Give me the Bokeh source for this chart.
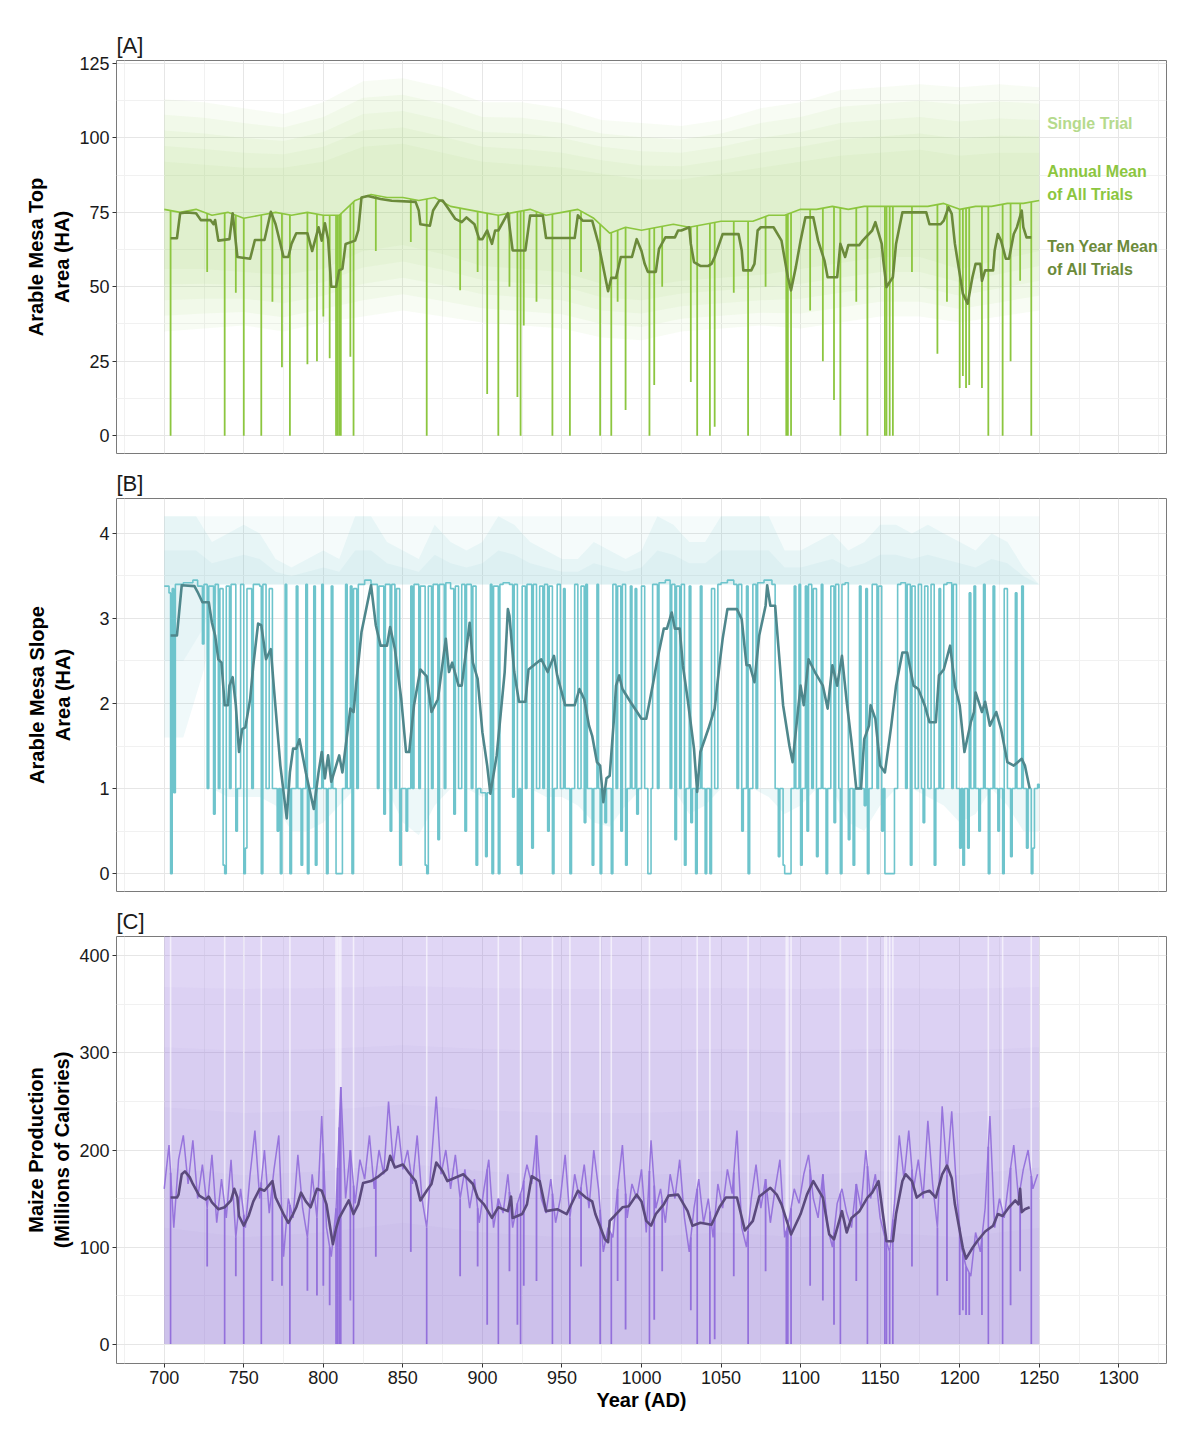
import numpy as np
from bokeh.plotting import figure
from bokeh.layouts import column
from bokeh.models import Range1d, FixedTicker, Label
from bokeh.embed import file_html
from bokeh.resources import INLINE

# ---------------- axis / tick data ----------------
x_ticks = [700, 750, 800, 850, 900, 950, 1000, 1050, 1100, 1150, 1200, 1250, 1300]
x_minor = [675, 725, 775, 825, 875, 925, 975, 1025, 1075, 1125, 1175, 1225, 1275, 1325]
A_yticks = [0, 25, 50, 75, 100, 125]
A_yminor = [12.5, 37.5, 62.5, 87.5, 112.5]
B_yticks = [0, 1, 2, 3, 4]
B_yminor = [0.5, 1.5, 2.5, 3.5]
C_yticks = [0, 100, 200, 300, 400]
C_yminor = [50, 150, 250, 350]

# ---------------- panel A: arable mesa top area ----------------
A_ann_years = list(range(700, 1251, 10))
A_ann_vals = [76, 75, 76, 74, 75, 73, 74, 75, 74, 75,
              74, 74, 79, 81, 80, 80, 79, 80, 77, 76,
              75, 74, 75, 76, 74, 75, 76, 73, 68, 70,
              69, 70, 71, 70, 71, 72, 72, 72, 74, 74,
              76, 76, 77, 76, 77, 77, 77, 77, 77, 78,
              76, 77, 77, 78, 78, 79]

drop_years = [704, 727, 738, 745, 750, 761, 768, 774, 779, 790,
              796, 800, 804, 808, 809, 810, 811, 817, 819, 833,
              855, 865, 886, 897, 903, 910, 917, 922, 924, 926,
              934, 944, 955, 962, 974, 981, 985, 990, 1005, 1008,
              1013, 1031, 1035, 1043, 1046, 1058, 1067, 1078, 1091, 1092,
              1094, 1106, 1114, 1121, 1125, 1135, 1142, 1153, 1154, 1156,
              1158, 1170, 1186, 1192, 1200, 1202, 1204, 1206, 1214, 1218,
              1227, 1232, 1238, 1245]
A_drop_vals = [0, 55, 0, 48, 0, 0, 45, 23, 0, 24,
               25, 40, 26, 0, 0, 0, 0, 26.5, 0, 62,
               65, 0, 48.8, 55, 14, 0, 50, 13, 0, 37,
               45, 0, 0, 55, 0, 0, 45, 8.6, 0, 17,
               50, 18, 0, 0, 3, 48, 0, 50, 0, 0,
               0, 42, 25, 12, 0, 45, 0, 0, 0, 0,
               0, 55, 27.5, 45, 16, 20, 16, 17, 16, 0,
               0, 25, 52, 0]

A_ten = [(704, 66.3), (708, 66.3), (710, 74.7), (714, 75), (720, 74.7), (723, 72.4), (729, 72.4),
         (731, 71), (732, 72.4), (734, 65.5), (741, 66), (743, 74.7), (746, 60), (754, 59.4),
         (757, 65.7), (763, 65.7), (767, 75.2), (770, 71), (773, 64.5), (775, 60), (778, 60),
         (780, 64.4), (783, 68), (790, 68), (793, 62), (797, 70), (799, 65.5), (801, 71.3),
         (803, 66), (805, 50), (808, 50), (810, 55.5), (812, 56), (814, 64.4), (820, 65.5),
         (822, 69), (824, 80), (828, 80.5), (836, 79.5), (843, 78.9), (858, 78.5), (860, 75.6),
         (861, 71), (867, 70.5), (869, 75.6), (873, 79), (875, 79), (878, 76.7), (883, 72.8),
         (887, 71.7), (890, 73.3), (895, 71), (898, 66), (900, 66), (903, 68.9), (906, 64.4),
         (908, 68.9), (910, 68.9), (916, 74.7), (919, 62.2), (927, 62.2), (930, 73.9), (938, 73.9),
         (940, 66.4), (958, 66.4), (960, 74), (963, 72.2), (969, 72.2), (973, 64.4), (979, 48.5),
         (981, 53), (984, 53), (987, 60), (994, 60), (997, 66), (1000, 62), (1002, 57.7),
         (1004, 55), (1009, 55), (1011, 62.7), (1015, 66.6), (1021, 66.6), (1023, 68.9),
         (1025, 68.9), (1030, 70), (1031, 64.4), (1033, 58.3), (1037, 57), (1042, 57),
         (1044, 57.7), (1046, 60), (1051, 67.7), (1061, 67.7), (1063, 62.2), (1064, 55.5),
         (1069, 55.5), (1071, 57.7), (1073, 68.9), (1075, 70), (1083, 70), (1088, 65.5),
         (1092, 53.2), (1094, 48.8), (1097, 56.6), (1100, 65.5), (1103, 73.3), (1108, 73.3),
         (1111, 65.5), (1115, 58.8), (1117, 53.2), (1123, 53.2), (1125, 64.4), (1128, 60),
         (1130, 64), (1137, 64), (1139, 65.5), (1145, 68.9), (1147, 71.7), (1151, 64.4),
         (1152, 58.8), (1154, 49.9), (1158, 53.2), (1160, 64.4), (1164, 75), (1179, 75),
         (1181, 71), (1188, 71), (1190, 72.2), (1193, 76.7), (1195, 74.5), (1197, 64.4),
         (1202, 47.7), (1205, 44.3), (1208, 53.2), (1210, 57.7), (1213, 57.7), (1214, 52),
         (1216, 55.5), (1221, 55.5), (1222, 62.2), (1224, 67.7), (1226, 65.5), (1229, 59.4),
         (1231, 59.4), (1234, 67.7), (1236, 70), (1239, 75.6), (1240, 70), (1242, 66.6),
         (1245, 66.6)]

A_cloud_years = list(range(700, 1251, 25))
A_out_hi = [113, 112, 110, 108, 112, 119, 120, 117, 112, 112, 110, 106,
            105, 104, 106, 110, 112, 116, 117, 118, 117, 118, 117]
A_out_lo = [35, 36, 37, 35, 38, 40, 42, 40, 38, 37, 36, 33,
            32, 35, 36, 37, 36, 38, 40, 40, 38, 40, 42]
A_in_hi = [92, 91, 90, 90, 92, 97, 98, 95, 92, 91, 90, 88,
           86, 86, 88, 90, 92, 94, 95, 96, 94, 95, 95]
A_in_lo = [56, 56, 55, 54, 56, 62, 64, 61, 57, 56, 55, 51,
           50, 52, 53, 54, 56, 58, 60, 60, 56, 59, 62]

# ---------------- panel B: arable mesa slope area ----------------
B_annual_runs = [
    (700, 3.38), (703, 3.3), (704, 0), (705, 3.35), (706, 0.95), (707, 3.4), (712, 3.42), (718, 3.45),
    (721, 3.38), (724, 2.7), (725, 3.4), (727, 1.0), (728, 3.38), (731, 0.7), (732, 3.4), (734, 1.0),
    (735, 3.35), (737, 0.1), (738, 0), (739, 3.38), (741, 1.0), (742, 3.4), (745, 0.5), (746, 1.0),
    (748, 3.4), (750, 0), (751, 0.3), (752, 3.35), (755, 1.0), (756, 3.4), (760, 3.38), (761, 0),
    (762, 3.4), (764, 1.0), (766, 3.35), (768, 1.0), (771, 0.5), (772, 1.0), (773, 0), (774, 1.0),
    (776, 3.4), (777, 1.0), (779, 0), (780, 1.0), (783, 3.38), (784, 1.0), (786, 0.1), (787, 1.0),
    (789, 3.4), (790, 0), (791, 1.0), (794, 3.38), (795, 0.1), (796, 1.0), (799, 3.4), (800, 1.0),
    (802, 0), (803, 1.0), (805, 3.38), (806, 1.0), (808, 0), (812, 1.0), (814, 3.4), (815, 1.0),
    (817, 3.38), (818, 0), (819, 3.35), (821, 1.0), (822, 3.4), (826, 3.45), (830, 3.4), (834, 1.0),
    (835, 3.38), (838, 0.7), (839, 3.4), (842, 0.5), (843, 3.4), (845, 1.0), (846, 3.35), (848, 0.1),
    (849, 1.0), (852, 0.5), (853, 1.0), (855, 3.38), (856, 1.0), (857, 3.4), (860, 1.0), (861, 3.38),
    (864, 0.1), (865, 0), (866, 3.38), (868, 1.0), (869, 3.4), (872, 0.4), (873, 3.4), (876, 1.0),
    (877, 3.42), (880, 3.35), (882, 0.7), (883, 3.38), (885, 1.0), (887, 3.4), (889, 0.5), (890, 3.4),
    (893, 1.0), (894, 3.38), (896, 0.1), (897, 1.0), (899, 0.95), (902, 0.2), (903, 0.95), (905, 3.4),
    (906, 0.0), (907, 3.38), (910, 0), (911, 3.4), (913, 3.42), (917, 3.4), (919, 0.9), (920, 3.4),
    (922, 0.1), (923, 1.0), (924, 0), (925, 3.38), (927, 1.0), (928, 3.4), (931, 0.3), (932, 3.4),
    (934, 1.0), (936, 3.38), (938, 1.0), (939, 3.4), (941, 0.5), (942, 3.38), (944, 0), (945, 1.0),
    (947, 3.4), (949, 1.0), (951, 3.35), (952, 1.0), (955, 0), (956, 1.0), (958, 3.4), (960, 1.0),
    (962, 3.38), (964, 0.6), (965, 3.4), (966, 1.0), (969, 0.1), (970, 1.0), (972, 3.4), (973, 1.0),
    (974, 0), (975, 1.0), (977, 0.6), (978, 1.0), (981, 0), (982, 3.4), (984, 1.0), (985, 3.38),
    (987, 0.5), (988, 3.4), (990, 0.1), (991, 1.0), (993, 3.38), (994, 1.0), (996, 3.35), (997, 0.7),
    (998, 1.0), (1000, 3.38), (1002, 1.0), (1004, 0), (1006, 1.0), (1007, 3.4), (1010, 1.0), (1011, 3.42),
    (1015, 3.45), (1018, 1.0), (1019, 3.4), (1021, 0.4), (1022, 3.38), (1024, 1.0), (1025, 3.4), (1027, 0.1),
    (1028, 1.0), (1030, 3.38), (1031, 0.6), (1032, 1.0), (1034, 0), (1035, 1.0), (1037, 3.38), (1038, 1.0),
    (1040, 0), (1041, 1.0), (1043, 0), (1044, 3.35), (1046, 1.0), (1048, 3.4), (1050, 3.42), (1054, 3.45),
    (1058, 3.4), (1060, 1.0), (1061, 3.4), (1063, 0.5), (1064, 1.0), (1066, 3.38), (1067, 0), (1068, 1.0),
    (1070, 3.4), (1072, 1.0), (1073, 3.42), (1077, 3.45), (1082, 3.4), (1084, 1.0), (1086, 0.2), (1087, 1.0),
    (1089, 0.1), (1090, 0), (1094, 1.0), (1096, 3.38), (1097, 1.0), (1099, 3.4), (1100, 0.1), (1101, 1.0),
    (1103, 3.38), (1104, 0.5), (1105, 3.4), (1107, 1.0), (1108, 3.35), (1110, 0.2), (1111, 1.0), (1113, 3.4),
    (1114, 1.0), (1116, 0), (1117, 1.0), (1119, 3.38), (1121, 0.6), (1122, 3.4), (1124, 1.0), (1125, 0),
    (1126, 3.4), (1128, 3.42), (1130, 0.4), (1131, 1.0), (1133, 0.1), (1134, 1.0), (1137, 3.38), (1138, 1.0),
    (1140, 0.8), (1141, 3.35), (1142, 0), (1143, 1.0), (1145, 3.4), (1148, 1.0), (1149, 3.38), (1151, 0.5),
    (1152, 1.0), (1153, 0), (1159, 1.0), (1161, 3.4), (1163, 3.42), (1166, 1.0), (1167, 3.4), (1169, 0.1),
    (1170, 3.38), (1172, 1.0), (1174, 3.4), (1176, 1.0), (1177, 0.6), (1178, 3.38), (1180, 1.0), (1182, 3.4),
    (1184, 0.1), (1185, 1.0), (1187, 3.35), (1188, 1.0), (1190, 3.4), (1192, 3.42), (1195, 1.0), (1196, 3.4),
    (1198, 1.0), (1200, 0.3), (1201, 1.0), (1202, 0.1), (1203, 1.0), (1205, 0.3), (1206, 3.3), (1207, 1.0),
    (1209, 3.38), (1210, 1.0), (1212, 0.5), (1213, 1.0), (1215, 3.4), (1216, 1.0), (1218, 0), (1219, 1.0),
    (1221, 3.38), (1222, 1.0), (1224, 0.5), (1225, 1.0), (1227, 0), (1228, 3.35), (1230, 1.0), (1232, 0.2),
    (1233, 1.0), (1235, 3.3), (1236, 1.0), (1239, 3.38), (1240, 1.0), (1242, 0.3), (1243, 1.0), (1245, 0),
    (1246, 0.3), (1247, 1.0), (1249, 1.05), (1250, 1.0)]

B_ten = [(704, 2.80), (708, 2.80), (711, 3.39), (719, 3.38), (721, 3.31), (724, 3.19), (728, 3.19),
         (730, 2.95), (732, 2.80), (734, 2.52), (736, 2.48), (738, 1.98), (740, 1.98), (741, 2.21),
         (743, 2.31), (745, 1.98), (747, 1.43), (749, 1.70), (751, 1.72), (754, 2.05), (756, 2.45),
         (759, 2.94), (761, 2.92), (764, 2.52), (767, 2.64), (769, 2.17), (773, 1.27), (777, 0.65),
         (779, 1.19), (781, 1.47), (783, 1.47), (785, 1.58), (789, 1.19), (794, 0.76), (797, 1.19),
         (799, 1.43), (801, 1.12), (803, 1.39), (805, 1.08), (810, 1.39), (812, 1.19), (817, 1.94),
         (819, 1.90), (821, 2.29), (824, 2.84), (830, 3.39), (833, 2.92), (836, 2.68), (840, 2.68),
         (842, 2.90), (845, 2.64), (849, 2.05), (852, 1.43), (854, 1.43), (857, 1.98), (861, 2.40),
         (865, 2.32), (868, 1.90), (872, 2.05), (877, 2.76), (879, 2.37), (881, 2.48), (885, 2.21),
         (887, 2.21), (892, 2.95), (894, 2.48), (897, 2.29), (900, 1.66), (903, 1.27), (905, 0.94),
         (909, 1.39), (914, 2.37), (916, 3.11), (917, 3.03), (920, 2.37), (923, 2.02), (927, 2.02),
         (929, 2.40), (937, 2.52), (941, 2.37), (945, 2.56), (947, 2.33), (952, 1.98), (958, 1.98),
         (961, 2.17), (964, 2.05), (967, 1.74), (969, 1.62), (972, 1.31), (974, 1.27), (976, 0.84),
         (978, 1.12), (980, 1.15), (983, 1.90), (984, 2.21), (986, 2.33), (988, 2.17), (993, 2.02),
         (1000, 1.82), (1003, 1.82), (1007, 2.21), (1010, 2.52), (1014, 2.88), (1016, 2.88), (1019, 3.07),
         (1021, 2.88), (1024, 2.88), (1026, 2.45), (1029, 2.05), (1033, 1.47), (1035, 0.96), (1037, 1.43),
         (1042, 1.70), (1046, 1.94), (1049, 2.45), (1051, 2.76), (1054, 3.11), (1060, 3.11), (1063, 2.99),
         (1066, 2.45), (1068, 2.45), (1071, 2.25), (1074, 2.80), (1078, 3.15), (1079, 3.39), (1081, 3.15),
         (1084, 3.15), (1086, 2.68), (1089, 1.98), (1093, 1.50), (1095, 1.31), (1100, 2.21), (1102, 1.98),
         (1105, 2.52), (1109, 2.37), (1114, 2.21), (1117, 1.94), (1120, 2.45), (1123, 2.21), (1126, 2.56),
         (1129, 2.02), (1132, 1.55), (1135, 1.0), (1138, 1.0), (1140, 1.58), (1143, 1.74), (1144, 1.98),
         (1147, 1.82), (1150, 1.27), (1153, 1.19), (1157, 1.74), (1160, 2.21), (1164, 2.60), (1167, 2.60),
         (1171, 2.21), (1174, 2.17), (1178, 1.98), (1181, 1.78), (1185, 1.78), (1187, 2.33), (1190, 2.40),
         (1194, 2.68), (1197, 2.21), (1200, 1.98), (1203, 1.43), (1207, 1.78), (1209, 1.90), (1210, 2.13),
         (1214, 1.90), (1216, 2.02), (1219, 1.74), (1223, 1.90), (1226, 1.70), (1230, 1.31), (1234, 1.27),
         (1239, 1.35), (1241, 1.27), (1244, 1.0)]

B_cloud_years = list(range(700, 1251, 10))
B_cloud_hi = [4.2, 4.2, 4.2, 3.9, 4.0, 4.1, 4.0, 3.7, 3.6, 3.7,
              3.8, 3.7, 4.2, 4.2, 3.9, 3.8, 3.7, 4.1, 3.9, 3.8,
              3.9, 4.2, 4.1, 3.9, 3.8, 3.7, 3.7, 3.9, 3.8, 3.7,
              3.8, 4.2, 4.1, 3.9, 3.9, 4.2, 4.2, 4.2, 4.2, 3.8,
              3.8, 3.9, 4.0, 3.8, 3.9, 4.1, 4.1, 4.0, 4.1, 4.0,
              3.9, 3.8, 4.0, 3.9, 3.6, 3.4]
B_low_lo = [1.0, 1.0, 1.0, 1.0, 0.9, 0.9, 0.9, 0.8, 0.5, 0.5,
            0.6, 0.8, 1.0, 1.0, 1.0, 0.6, 0.45, 0.8, 1.0, 1.0,
            0.9, 1.0, 1.0, 1.0, 0.9, 0.9, 0.8, 0.6, 0.55, 0.8,
            1.0, 1.0, 1.0, 0.7, 0.8, 1.0, 1.0, 1.0, 0.9, 0.7,
            0.8, 1.0, 1.0, 0.6, 0.5, 0.8, 1.0, 1.0, 0.9, 0.8,
            0.6, 0.7, 1.0, 0.8, 0.5, 0.5]
B_mid_years = [700, 712, 725, 735]
B_mid_lo = [1.6, 1.6, 2.4, 3.4]

# ---------------- panel C: maize production ----------------
C_ann_start = 700
C_ann_vals = [160, 205, 120, 190, 215, 165, 210, 150, 185, 140, 195, 125, 170, 130, 190, 110, 160, 120,
              175, 220, 150, 200, 135, 180, 215, 90, 150, 130, 195, 140, 110, 175, 130, 235, 120, 90,
              140, 265, 150, 200, 145, 190, 170, 215, 160, 200, 175, 250, 185, 225, 180, 200, 165, 215,
              150, 120, 190, 255, 175, 200, 160, 195, 150, 180, 140, 170, 125, 160, 190, 120, 150, 135,
              175, 120, 145, 160, 185, 165, 215, 150, 135, 170, 125, 150, 195, 130, 175, 150, 185, 140,
              200, 160, 95, 120, 110, 160, 205, 130, 165, 150, 180, 115, 210, 140, 160, 125, 175, 150,
              190, 130, 95, 140, 170, 125, 150, 110, 165, 140, 180, 155, 220, 120, 100, 150, 185, 140,
              170, 125, 160, 190, 110, 130, 160, 145, 175, 195, 150, 130, 175, 120, 100, 145, 160, 135,
              120, 165, 140, 200, 150, 175, 130, 110, 95, 145, 215, 170, 220, 160, 190, 150, 230, 165,
              120, 245, 175, 240, 160, 100, 80, 70, 115, 95, 140, 235, 120, 150, 130, 170, 205, 150,
              180, 200, 160, 175]
C_drop_vals = [0, 80, 0, 70, 0, 0, 65, 60, 0, 55,
               50, 60, 40, 0, 0, 0, 0, 45, 0, 90,
               95, 0, 70, 80, 20, 0, 75, 20, 0, 60,
               65, 0, 0, 80, 0, 0, 65, 15, 0, 25,
               75, 35, 0, 0, 5, 70, 0, 75, 0, 0,
               0, 60, 45, 20, 0, 65, 0, 0, 0, 0,
               0, 80, 50, 65, 30, 35, 30, 30, 30, 0,
               0, 40, 75, 0]

C_ten = [(704, 151), (708, 151), (709, 154), (711, 175), (713, 178), (716, 172), (718, 165), (722, 153),
         (726, 149), (728, 152), (730, 146), (734, 139), (738, 141), (742, 148), (744, 160), (746, 151),
         (747, 132), (750, 122), (753, 132), (756, 147), (760, 160), (763, 158), (768, 168), (770, 151),
         (775, 134), (778, 125), (781, 134), (783, 141), (786, 156), (789, 147), (792, 141), (796, 160),
         (799, 158), (802, 144), (805, 113), (806, 103), (808, 119), (810, 130), (816, 148), (819, 134),
         (822, 144), (825, 166), (830, 168), (834, 172), (840, 180), (842, 194), (845, 182), (850, 185),
         (854, 176), (858, 168), (861, 148), (865, 158), (868, 165), (871, 187), (875, 178), (878, 168),
         (888, 175), (894, 165), (897, 151), (901, 144), (906, 130), (910, 141), (916, 137), (918, 152),
         (919, 130), (925, 134), (928, 144), (931, 173), (936, 168), (940, 137), (947, 139), (953, 134),
         (960, 158), (965, 151), (969, 147), (971, 134), (977, 108), (979, 105), (980, 127), (983, 132),
         (988, 141), (992, 142), (997, 154), (1000, 147), (1003, 127), (1006, 122), (1009, 134), (1014, 144),
         (1017, 153), (1023, 154), (1029, 137), (1032, 122), (1037, 125), (1044, 123), (1049, 141),
         (1053, 151), (1060, 151), (1065, 117), (1070, 127), (1074, 152), (1081, 161), (1085, 154),
         (1088, 144), (1094, 113), (1100, 134), (1104, 154), (1108, 168), (1114, 151), (1118, 113),
         (1121, 108), (1126, 137), (1129, 115), (1132, 130), (1137, 137), (1142, 151), (1145, 156),
         (1149, 168), (1154, 106), (1158, 106), (1160, 134), (1164, 168), (1166, 175), (1170, 168),
         (1173, 151), (1177, 156), (1181, 158), (1185, 151), (1189, 175), (1192, 184), (1195, 171),
         (1197, 144), (1202, 99), (1204, 88), (1208, 99), (1211, 106), (1216, 116), (1221, 122),
         (1224, 134), (1227, 132), (1231, 141), (1235, 148), (1237, 144), (1238, 160), (1239, 136),
         (1241, 139), (1244, 141)]

C_cloud_years = [700, 750, 800, 850, 900, 950, 1000, 1050, 1100, 1150, 1200, 1250]
C_cloud_hi = [430, 430, 430, 430, 430, 430, 430, 430, 430, 430, 430, 430]
C_core_hi = [120, 110, 115, 125, 115, 110, 110, 115, 110, 115, 110, 120]

# ---------------- styling ----------------
FONT = "Liberation Sans"
A_LIGHT, A_MID, A_DARK = "#a3d168", "#8cc63f", "#6b8a3a"
B_MID, B_DARK = "#6ec4cc", "#4f878c"
C_MID, C_DARK = "#9370db", "#5b4a7d"

x_range = Range1d(670, 1330)


def make_fig(tag, y_range, yticks, yminor, ylabel, frame_h, top, bottom, label_standoff):
    p = figure(frame_width=1050, frame_height=frame_h, x_range=x_range, y_range=y_range,
               output_backend="svg", toolbar_location=None,
               min_border_left=116, min_border_right=16, min_border_top=top, min_border_bottom=bottom)
    p.title.text = tag
    p.title.text_font = FONT
    p.title.text_font_size = "22px"
    p.title.text_font_style = "normal"
    p.title.text_color = "#1a1a1a"
    p.title.align = "left"
    p.title.standoff = 5
    p.outline_line_color = "#7a7a7a"
    p.outline_line_width = 1
    p.background_fill_color = "white"
    p.border_fill_color = "white"
    xt = FixedTicker(ticks=x_ticks, minor_ticks=x_minor)
    yt = FixedTicker(ticks=yticks, minor_ticks=yminor)
    p.xaxis.ticker = xt
    p.yaxis.ticker = yt
    p.xgrid.ticker = xt
    p.ygrid.ticker = yt
    for g in (p.xgrid, p.ygrid):
        g.grid_line_color = "#e6e6e6"
        g.grid_line_width = 1
        g.minor_grid_line_color = "#f1f1f1"
        g.minor_grid_line_width = 1
    for ax in (p.xaxis, p.yaxis):
        ax.axis_line_color = None
        ax.major_tick_line_color = "#333333"
        ax.major_tick_in = 0
        ax.major_tick_out = 4
        ax.minor_tick_line_color = None
        ax.major_label_text_font = FONT
        ax.major_label_text_font_size = "18px"
        ax.major_label_text_color = "#1a1a1a"
    p.yaxis.major_label_standoff = 3
    p.yaxis.axis_label = ylabel
    p.yaxis.axis_label_text_font = FONT
    p.yaxis.axis_label_text_font_size = "20px"
    p.yaxis.axis_label_text_font_style = "bold"
    p.yaxis.axis_label_text_color = "black"
    p.yaxis.axis_label_standoff = label_standoff
    return p


def blend(lo_arr, hi_arr, f):
    return [a + (b - a) * f for a, b in zip(lo_arr, hi_arr)]


# ---------------- panel A ----------------
pA = make_fig("[A]", Range1d(-6, 126), A_yticks, A_yminor, "Arable Mesa Top\nArea (HA)", 393, 60, 13, 3)
pA.xaxis.visible = False
for f in (0.0, 0.25, 0.5, 0.75, 1.0):
    pA.varea(x=A_cloud_years, y1=blend(A_out_lo, A_in_lo, f), y2=blend(A_out_hi, A_in_hi, f),
             fill_color=A_LIGHT, fill_alpha=0.075)
pA.line(A_ann_years, A_ann_vals, line_color=A_MID, line_width=1.6)
a_top = np.interp(drop_years, A_ann_years, A_ann_vals)
pA.segment(x0=drop_years, y0=a_top, x1=drop_years, y1=A_drop_vals, line_color=A_MID, line_width=1.8)
pA.line([t[0] for t in A_ten], [t[1] for t in A_ten], line_color=A_DARK, line_width=2.6, line_join="round")

legend_font = dict(text_font=FONT, text_font_size="16px", text_font_style="bold",
                   text_baseline="middle", text_align="left")
for txt, yy, col in [("Single Trial", 104.8, "#b5da8c"),
                     ("Annual Mean", 88.7, A_MID), ("of All Trials", 81.0, A_MID),
                     ("Ten Year Mean", 63.5, A_DARK), ("of All Trials", 55.8, A_DARK)]:
    pA.add_layout(Label(x=1255, y=yy, text=txt, text_color=col, **legend_font))

# ---------------- panel B ----------------
pB = make_fig("[B]", Range1d(-0.21, 4.41), B_yticks, B_yminor, "Arable Mesa Slope\nArea (HA)", 393, 30, 13, 22)
pB.xaxis.visible = False
n_b = len(B_cloud_years)
pB.varea(x=B_cloud_years, y1=[3.4] * n_b, y2=[4.2] * n_b, fill_color=B_MID, fill_alpha=0.07)
pB.varea(x=B_cloud_years, y1=[3.4] * n_b, y2=B_cloud_hi, fill_color=B_MID, fill_alpha=0.10)
pB.varea(x=B_cloud_years, y1=[3.4] * n_b, y2=blend([3.4] * n_b, B_cloud_hi, 0.5), fill_color=B_MID, fill_alpha=0.08)
pB.varea(x=B_mid_years, y1=B_mid_lo, y2=[3.4] * len(B_mid_years), fill_color=B_MID, fill_alpha=0.10)
pB.varea(x=B_mid_years, y1=blend(B_mid_lo, [3.4] * len(B_mid_years), 0.5), y2=[3.4] * len(B_mid_years),
         fill_color=B_MID, fill_alpha=0.08)
pB.varea(x=B_cloud_years, y1=B_low_lo, y2=[1.0] * n_b, fill_color=B_MID, fill_alpha=0.12)
pB.step([t[0] for t in B_annual_runs], [t[1] for t in B_annual_runs], mode="after",
        line_color=B_MID, line_width=1.6)
pB.line([t[0] for t in B_ten], [t[1] for t in B_ten], line_color=B_DARK, line_width=2.6, line_join="round")

# ---------------- panel C ----------------
pC = make_fig("[C]", Range1d(-20, 420), C_yticks, C_yminor, "Maize Production\n(Millions of Calories)", 427, 30, 58, 3)
pC.xaxis.major_label_standoff = 3
pC.xaxis.axis_label = "Year (AD)"
pC.xaxis.axis_label_text_font = FONT
pC.xaxis.axis_label_text_font_size = "20px"
pC.xaxis.axis_label_text_font_style = "bold"
pC.xaxis.axis_label_text_color = "black"
pC.xaxis.axis_label_standoff = 2
zeros_c = [0] * len(C_cloud_years)
pC.varea(x=C_cloud_years, y1=zeros_c, y2=C_cloud_hi, fill_color=C_MID, fill_alpha=0.29)
for f in (0.2, 0.4, 0.6, 0.8, 1.0):
    pC.varea(x=C_cloud_years, y1=zeros_c, y2=blend(C_cloud_hi, C_core_hi, f), fill_color=C_MID, fill_alpha=0.045)
full_zero = [y for y, v in zip(drop_years, C_drop_vals) if v == 0]
pC.segment(x0=full_zero, y0=[0] * len(full_zero), x1=full_zero, y1=[430] * len(full_zero),
           line_color="white", line_alpha=0.6, line_width=1.6)
C_ann_years = list(range(C_ann_start, C_ann_start + 3 * len(C_ann_vals), 3))
pC.line(C_ann_years, C_ann_vals, line_color=C_MID, line_width=1.5, line_alpha=0.95)
c_top = np.interp(drop_years, C_ann_years, C_ann_vals)
pC.segment(x0=drop_years, y0=c_top, x1=drop_years, y1=C_drop_vals, line_color=C_MID, line_width=1.8)
pC.line([t[0] for t in C_ten], [t[1] for t in C_ten], line_color=C_DARK, line_width=2.6, line_join="round")

layout = column(pA, pB, pC, spacing=0)
open("out.html", "w").write(file_html(layout, INLINE, "Mesa simulation"))
